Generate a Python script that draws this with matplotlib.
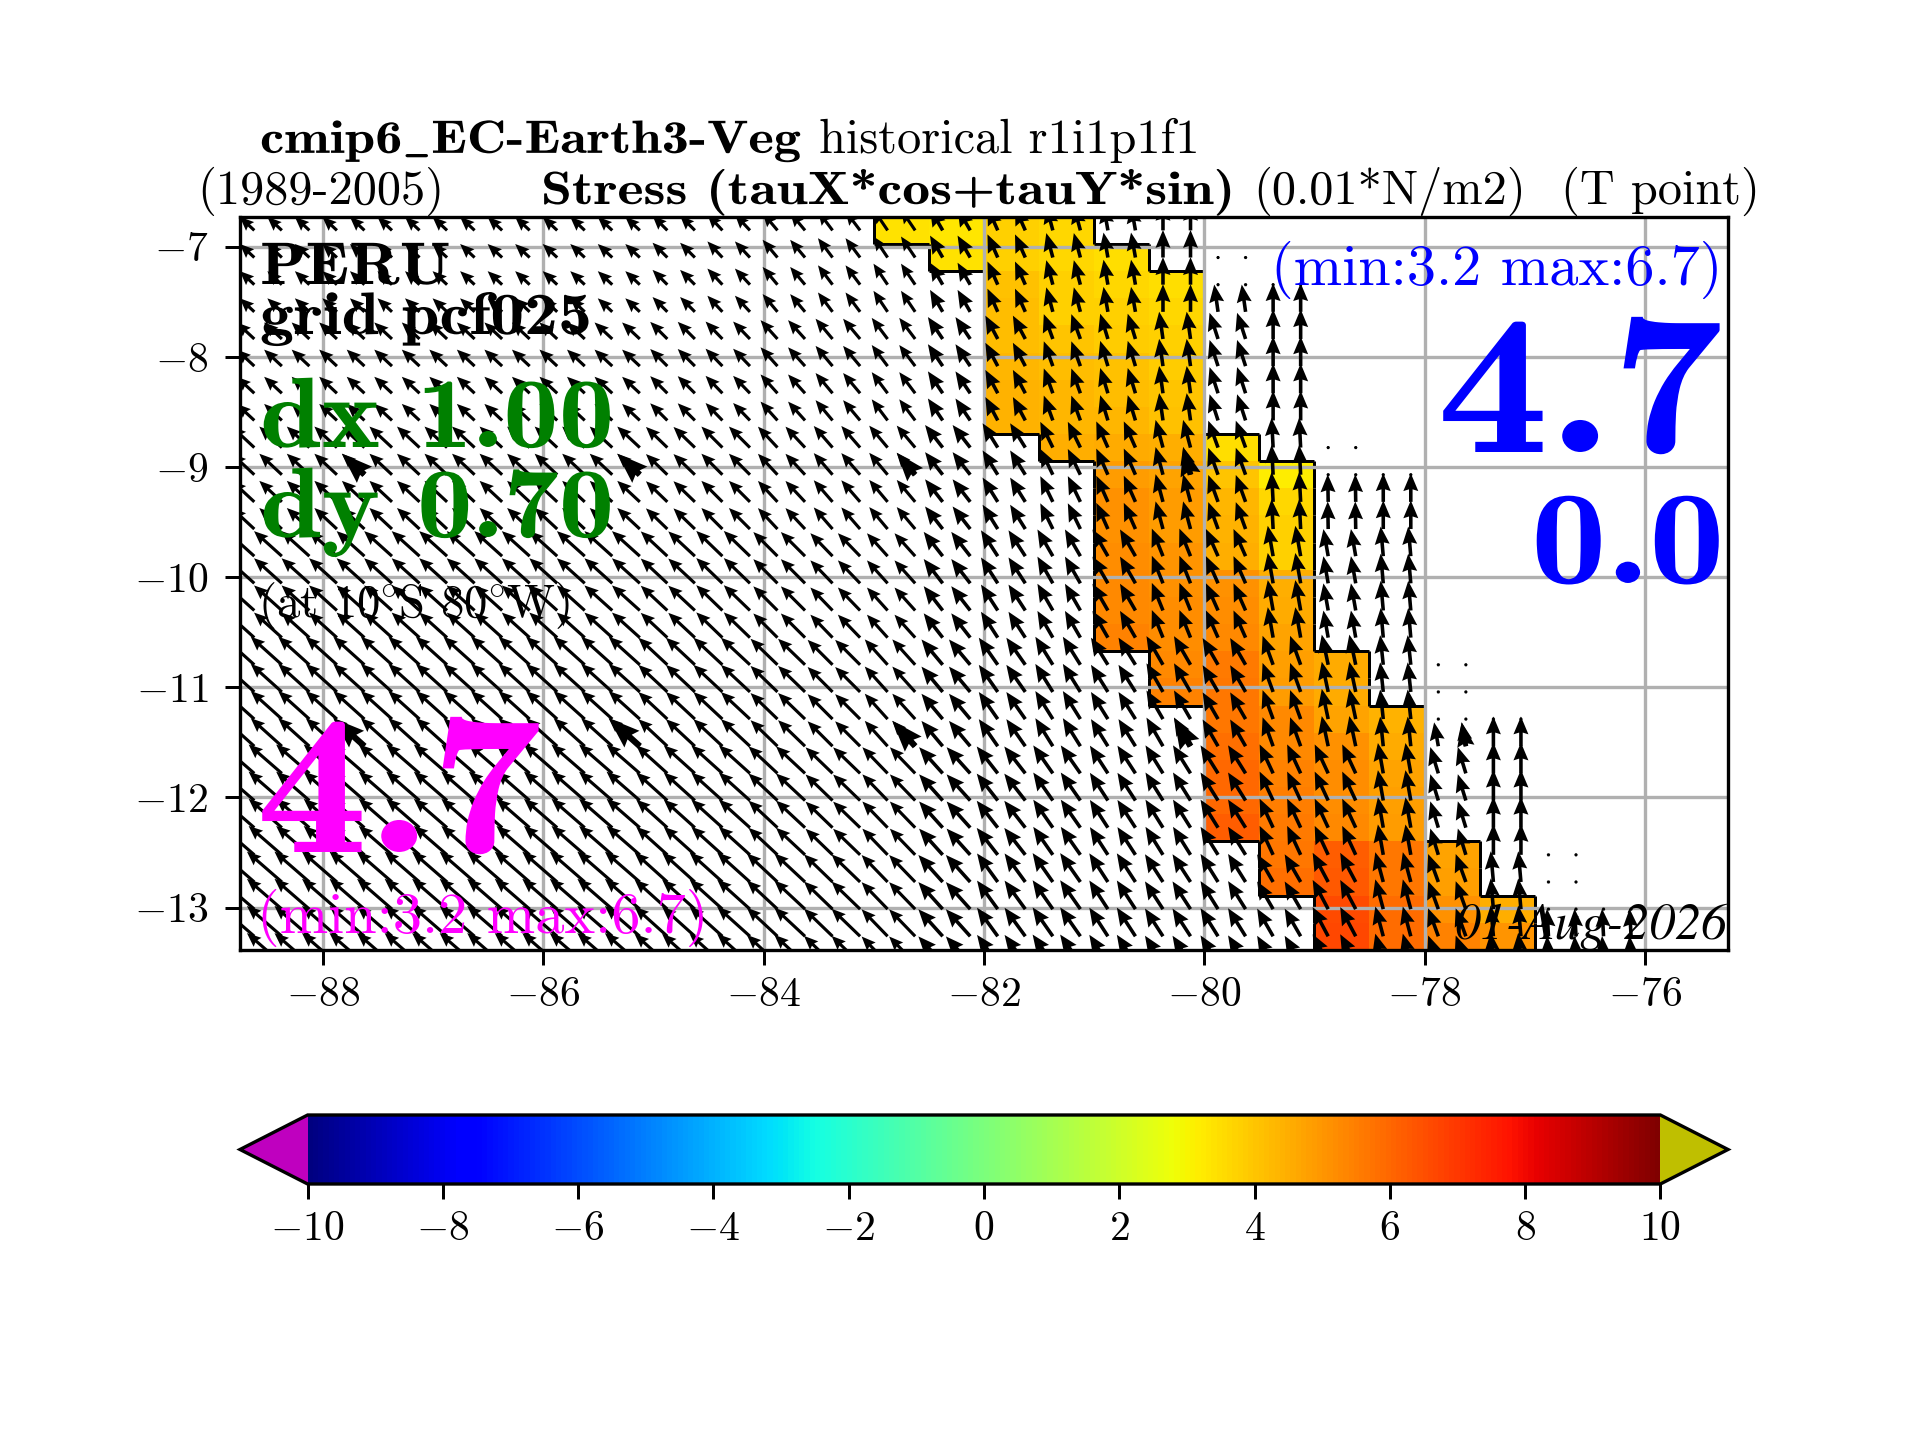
import numpy as np
import matplotlib
matplotlib.use("Agg")
import matplotlib.pyplot as plt
from matplotlib.collections import LineCollection
from matplotlib.patheffects import AbstractPathEffect
from matplotlib.transforms import Affine2D

plt.rcParams['font.family'] = ['cmr10', 'DejaVu Serif']
plt.rcParams['mathtext.fontset'] = 'cm'
plt.rcParams['axes.unicode_minus'] = False

# ---- data ----
lon_ticks = [-88, -86, -84, -82, -80, -78, -76]
lon_tick_labels = ['$-88$', '$-86$', '$-84$', '$-82$', '$-80$', '$-78$', '$-76$']
lat_ticks = [-7, -8, -9, -10, -11, -12, -13]
lat_tick_labels = ['$-7$', '$-8$', '$-9$', '$-10$', '$-11$', '$-12$', '$-13$']
cbar_ticks = [-10, -8, -6, -4, -2, 0, 2, 4, 6, 8, 10]
cbar_tick_labels = ['$-10$', '$-8$', '$-6$', '$-4$', '$-2$', '$0$', '$2$', '$4$', '$6$', '$8$', '$10$']

# stress values: one list per 0.5 degree longitude band (from 83W eastwards)
band_first_row = [-1, -1, -1, -1, 0, 1, 7, 8, 15, 17, 22, 24]
band0 = [3.4]
band1 = [3.3, 3.4]
band2 = [3.8, 3.8, 4.1, 4.2, 4.2, 4.3, 4.4, 4.4]
band3 = [3.6, 3.6, 3.8, 3.8, 4.0, 4.2, 4.3, 4.3, 4.5]
band4 = [3.5, 3.6, 3.8, 3.9, 4.1, 4.2, 4.3, 4.6, 4.9, 5.1, 5.1, 5.2, 5.3, 5.3, 5.4]
band5 = [3.5, 3.6, 3.8, 3.9, 4.0, 4.1, 4.5, 4.7, 4.9, 4.9, 5.0, 5.1, 5.2, 5.2, 5.3, 5.4]
band6 = [3.5, 4.0, 4.3, 4.4, 4.5, 5.1, 5.2, 5.3, 5.6, 5.7, 5.7, 5.8, 6.0, 6.0, 6.2]
band7 = [3.2, 3.6, 3.8, 3.8, 4.5, 4.6, 4.7, 4.8, 4.9, 5.3, 5.3, 5.4, 5.5, 5.6, 5.7, 5.8]
band8 = [4.6, 4.6, 4.7, 5.1, 5.2, 5.2, 5.3, 6.2, 6.3, 6.6, 6.7]
band9 = [4.4, 4.6, 4.7, 4.8, 4.9, 5.7, 5.7, 5.9, 5.9]
band10 = [4.7, 4.8, 5.1, 5.4]
band11 = [4.5, 5.0]

# wind-stress arrows: angle west of north (deg), one row per latitude group, one entry per 0.5 deg band
angle_r0 = [47, 47, 47, 47, 47, 47, 47, 47, 45, 43, 40, 37, 34, 30, 24, 15, 10, 0, 8, 0, 0, 0, 0, 0, 0, 0]
angle_r1 = [47, 47, 47, 47, 47, 47, 47, 47, 45, 44, 42, 40, 37, 34, 28, 20, 17, 8, 18, 0, 0, 0, 0, 0, 0, 0]
angle_r2 = [47, 47, 47, 47, 47, 47, 47, 47, 46, 45, 43, 41, 40, 38, 32, 26, 24, 15, 20, 3, 1, 0, 0, 0, 0, 0]
angle_r3 = [48, 48, 48, 48, 48, 48, 48, 48, 47, 46, 45, 44, 42, 38, 33, 30, 30, 22, 24, 10, 10, 5, 0, 0, 0, 0]
angle_r4 = [48, 48, 48, 48, 48, 48, 48, 48, 47, 47, 46, 45, 42, 40, 35, 32, 32, 30, 30, 20, 12, 6, 10, 0, 0, 0]
angle_r5 = [49, 49, 49, 49, 49, 49, 49, 49, 48, 48, 47, 46, 44, 42, 38, 35, 33, 32, 32, 25, 25, 10, 17, 0, 0, 0]
angle_r6 = [49, 49, 49, 49, 49, 49, 49, 49, 48, 48, 47, 46, 44, 42, 36, 35, 33, 33, 32, 30, 28, 15, 20, 5, 3, 3]
# arrow lengths (degrees)
speed_r0 = [.18, .18, .18, .18, .18, .18, .18, .18, .19, .20, .21, .22, .23, .23, .23, .23, .23, .25, .25, .26, 0, 0, 0, 0, 0, 0]
speed_r1 = [.22, .22, .22, .22, .22, .22, .22, .22, .22, .22, .23, .24, .24, .24, .24, .24, .24, .25, .25, .27, 0, 0, 0, 0, 0, 0]
speed_r2 = [.28, .28, .28, .28, .28, .28, .28, .28, .27, .27, .26, .26, .26, .26, .26, .26, .26, .26, .26, .27, .25, .26, 0, 0, 0, 0]
speed_r3 = [.34, .34, .34, .34, .34, .34, .34, .34, .33, .33, .31, .29, .28, .28, .28, .28, .28, .27, .27, .28, .25, .27, 0, 0, 0, 0]
speed_r4 = [.38, .38, .38, .38, .38, .38, .38, .38, .36, .36, .34, .32, .31, .30, .30, .30, .29, .30, .28, .28, .28, .27, .22, .27, 0, 0]
speed_r5 = [.40, .40, .40, .40, .40, .40, .40, .40, .38, .38, .36, .34, .33, .32, .31, .31, .30, .30, .30, .29, .29, .28, .25, .28, 0, 0]
speed_r6 = [.42, .42, .42, .42, .42, .42, .42, .42, .40, .40, .38, .36, .34, .33, .32, .32, .31, .30, .30, .29, .30, .28, .27, .28, .25, .25]
# land: first row with wind in the eastern bands, and the rows holding a zero arrow (dot)
coast_band = [18, 19, 20, 21, 22, 23, 24, 25]
coast_first_row = [2, 2, 9, 9, 18, 18, 25, 25]
coast_dot_rows = [[0, 1], [1], [7, 8], [8], [15, 16, 17], [17], [22, 23, 24], [24]]
# a few arrows are drawn heavier
big_cols = [4, 14, 24, 34, 44]
big_rows = [8, 18]

stats_text = '(min:3.2 max:6.7)'
mean_text = '4.7'

# ---- grids ----
bands = [band0, band1, band2, band3, band4, band5, band6, band7, band8, band9, band10, band11]
dlat = 0.2465
n_rows = 27                       # rows k = -1 ... 25
lat_edges = -6.975 - dlat * np.arange(-1, n_rows)
lon_edges = -83 + 0.5 * np.arange(len(bands) + 1)
field = np.full((n_rows, len(bands)), np.nan)
for j, (start, vals) in enumerate(zip(band_first_row, bands)):
    for n, v in enumerate(vals):
        field[start + 1 + n, j] = v
field = np.ma.masked_invalid(field)

angle_table = np.array([angle_r0, angle_r1, angle_r2, angle_r3, angle_r4, angle_r5, angle_r6], float)
speed_table = np.array([speed_r0, speed_r1, speed_r2, speed_r3, speed_r4, speed_r5, speed_r6], float)
arrow_rows = np.arange(-1, 27)
arrow_cols = np.arange(0, 51)
arrow_lon = -88.625 + 0.25 * arrow_cols
arrow_lat = -7.098 - dlat * arrow_rows
group = np.minimum((arrow_rows + 1) // 4, 6)
band_idx = (arrow_cols + 1) // 2
ang = np.deg2rad(angle_table[group][:, band_idx])
spd = speed_table[group][:, band_idx]
present = np.ones_like(spd, dtype=bool)
for b, first, dots in zip(coast_band, coast_first_row, coast_dot_rows):
    sel = band_idx == b
    for r_i, r in enumerate(arrow_rows):
        if r < first:
            spd[r_i, sel] = 0
            present[r_i, sel] = r in dots
u = -spd * np.sin(ang)
v = spd * np.cos(ang)
X, Y = np.meshgrid(arrow_lon, arrow_lat)

# ---- figure ----
W, H = 1920, 1440
fig = plt.figure(figsize=(8, 6), dpi=240)
ax = fig.add_axes([240 / W, 1 - 950 / H, 1488 / W, 733 / H])
cmap = plt.get_cmap('jet', 256).copy()
cmap.set_under((0.75, 0, 0.75))
cmap.set_over((0.75, 0.75, 0))
mesh = ax.pcolormesh(lon_edges, lat_edges, field, cmap=cmap, vmin=-10, vmax=10, zorder=1)

# outline of the mask
filled = ~np.ma.getmaskarray(field)
segs = []
for r in range(n_rows):
    for c in range(len(bands)):
        if not filled[r, c]:
            continue
        if c == 0 or not filled[r, c - 1]:
            segs.append([(lon_edges[c], lat_edges[r]), (lon_edges[c], lat_edges[r + 1])])
        if c == len(bands) - 1 or not filled[r, c + 1]:
            segs.append([(lon_edges[c + 1], lat_edges[r]), (lon_edges[c + 1], lat_edges[r + 1])])
        if r == 0 or not filled[r - 1, c]:
            segs.append([(lon_edges[c], lat_edges[r]), (lon_edges[c + 1], lat_edges[r])])
        if r == n_rows - 1 or not filled[r + 1, c]:
            segs.append([(lon_edges[c], lat_edges[r + 1]), (lon_edges[c + 1], lat_edges[r + 1])])
ax.add_collection(LineCollection(segs, colors='k', linewidths=0.9, zorder=2))

# arrows over the open ocean in the west are slimmer than those near the coast
slim = (X < -82.5) & present
stout = present & ~slim
ax.quiver(X[slim], Y[slim], u[slim], v[slim], angles='xy', scale_units='xy', scale=1,
          width=0.0021, headwidth=3.8, headlength=4.5, headaxislength=4, color='k', zorder=3)
ax.quiver(X[stout], Y[stout], u[stout], v[stout], angles='xy', scale_units='xy', scale=1,
          width=0.0024, headwidth=4.2, headlength=5, headaxislength=4.5, color='k', zorder=3)
bi = np.isin(arrow_rows, big_rows)[:, None] & np.isin(arrow_cols, big_cols)[None, :] & (spd > 0)
ax.quiver(X[bi], Y[bi], u[bi], v[bi], angles='xy', scale_units='xy', scale=1,
          width=0.0042, headwidth=3.6, headlength=5, headaxislength=4.5, color='k', zorder=3)

ax.set_xlim(-88.755, -75.245)
ax.set_ylim(-13.385, -6.73)
ax.set_xticks(lon_ticks)
ax.set_xticklabels(lon_tick_labels)
ax.set_yticks(lat_ticks)
ax.set_yticklabels(lat_tick_labels)
ax.grid(True, color='#b0b0b0', linewidth=1.0, zorder=4)
ax.set_axisbelow(False)
ax.tick_params(labelsize=12.5, length=4.5, width=0.9, pad=4)
ax.tick_params(axis='y', pad=5)
ax.tick_params(axis='x', pad=3.5)
for s in ax.spines.values():
    s.set_linewidth(1.0)
    s.set_zorder(6)

cax = fig.add_axes([240 / W, 1 - 1184 / H, 1488 / W, 69 / H])
cb = fig.colorbar(mesh, cax=cax, orientation='horizontal', extend='both', ticks=cbar_ticks)
cb.ax.set_xticklabels(cbar_tick_labels)
cb.ax.tick_params(labelsize=12.5, length=4.5, width=0.9, pad=3.5)
cb.outline.set_linewidth(1.0)


class StretchX(AbstractPathEffect):
    """Widen glyphs about a pixel column, to mimic the extended bold face."""

    def __init__(self, factor, x0):
        super().__init__()
        self.factor = factor
        self.x0 = x0

    def draw_path(self, renderer, gc, tpath, affine, rgbFace=None):
        extra = Affine2D().translate(-self.x0, 0).scale(self.factor, 1).translate(self.x0, 0)
        renderer.draw_path(gc, tpath, affine + extra, rgbFace)


def put(x, y, s, stretch=None, **kw):
    kw.setdefault('va', 'baseline')
    t = fig.text(x / W, 1 - y / H, s, zorder=10, **kw)
    if stretch:
        t.set_path_effects([StretchX(stretch, x)])
    return t


BOLD = ['cmb10', 'cmr10', 'DejaVu Serif']
put(260, 153, r'cmip6$\_$EC-Earth3-Veg', stretch=1.17, family=BOLD, fontsize=14)
put(819, 153, 'historical r1i1p1f1', fontsize=14.5)
put(197, 204, '(1989-2005)', fontsize=14.5)
put(541, 204, 'Stress (tauX*cos+tauY*sin)', stretch=1.195, family=BOLD, fontsize=14)
put(1253, 204, '(0.01*N/m2)', fontsize=14.5)
put(1561, 204, '(T point)', fontsize=14.5)

put(260, 284, 'PERU', stretch=1.11, family=BOLD, fontsize=18)
put(260, 334, 'grid pcf025', stretch=1.13, family=BOLD, fontsize=18)
put(260, 447, 'dx 1.00', stretch=1.11, family=BOLD, fontsize=30, color='green')
put(260, 537, 'dy 0.70', stretch=1.11, family=BOLD, fontsize=30, color='green')
put(258, 617, r'(at 10$\!^\circ\!$S 80$\!^\circ\!$W)', fontsize=14)
put(256, 852, mean_text, stretch=1.12, family=BOLD, fontsize=60, color='magenta')
put(257, 933, stats_text, fontsize=17.5, color='magenta')
put(1722, 285, stats_text, fontsize=17.5, color='blue', ha='right')
put(1723, 452, mean_text, stretch=1.12, family=BOLD, fontsize=60, color='blue', ha='right')
put(1725, 583, '0.0', stretch=1.14, family=BOLD, fontsize=40, color='blue', ha='right')
put(1727, 939, '01-Aug-2026', family='STIXGeneral', style='italic', fontsize=15.5, ha='right')

fig.savefig('out.png', dpi=240)
